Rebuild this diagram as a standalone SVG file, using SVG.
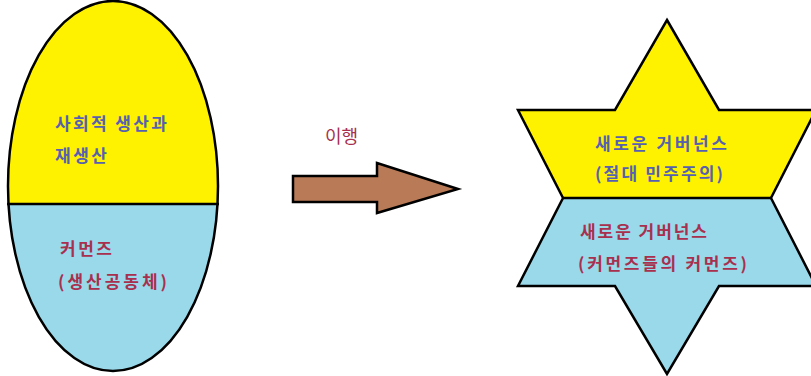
<svg xmlns="http://www.w3.org/2000/svg" width="811" height="376" viewBox="0 0 811 376">
<style>
  .t{font-family:"Noto Sans CJK KR","Noto Sans",sans-serif;font-size:17px;font-weight:bold;}
  .blue{fill:#5560b0;}
  .red{fill:#a8304e;}
  .edge{stroke:#000;stroke-width:2.5;stroke-linejoin:miter;}
</style>
<defs>
  <clipPath id="eclip"><ellipse cx="113" cy="186" rx="105" ry="185"/></clipPath>
</defs>
<rect width="811" height="376" fill="#fff"/>
<g id="node-society">
  <g clip-path="url(#eclip)">
    <rect x="0" y="0" width="230" height="204" fill="#fff200"/>
    <rect x="0" y="204" width="230" height="180" fill="#99d9ea"/>
  </g>
  <ellipse cx="113" cy="186" rx="105" ry="185" fill="none" class="edge"/>
  <line x1="7" y1="204" x2="219" y2="204" class="edge"/>
  <text class="t blue" x="55" y="130" textLength="112" lengthAdjust="spacing">사회적 생산과</text>
  <text class="t blue" x="55" y="162" textLength="52" lengthAdjust="spacing">재생산</text>
  <text class="t red" x="60" y="255" textLength="52" lengthAdjust="spacing">커먼즈</text>
  <text class="t red" x="58" y="288" textLength="109" lengthAdjust="spacing">(생산공동체)</text>
</g>
<g id="connectors">
  <polygon points="293,176 377,176 377,163 458,189 377,213 377,202 293,202" fill="#b97a57" class="edge"/>
  <text class="t red" x="325" y="143" style="font-weight:normal;font-size:18px">이행</text>
</g>
<g id="node-governance">
  <polygon points="667,20 719,110 816,110 771,198 563,198 518,110 615,110" fill="#fff200"/>
  <polygon points="563,198 771,198 816,286 719,286 667,374 615,286 518,286" fill="#99d9ea"/>
  <polygon points="667,20 719,110 816,110 771,198 816,286 719,286 667,374 615,286 518,286 563,198 518,110 615,110" fill="none" class="edge"/>
  <line x1="563" y1="198" x2="771" y2="198" class="edge"/>
  <text class="t blue" x="595" y="150" textLength="132" lengthAdjust="spacing">새로운 거버넌스</text>
  <text class="t blue" x="595" y="180" textLength="128" lengthAdjust="spacing">(절대 민주주의)</text>
  <text class="t red" x="580" y="238" textLength="127" lengthAdjust="spacing">새로운 거버넌스</text>
  <text class="t red" x="578" y="270" textLength="169" lengthAdjust="spacing">(커먼즈들의 커먼즈)</text>
</g>
</svg>
